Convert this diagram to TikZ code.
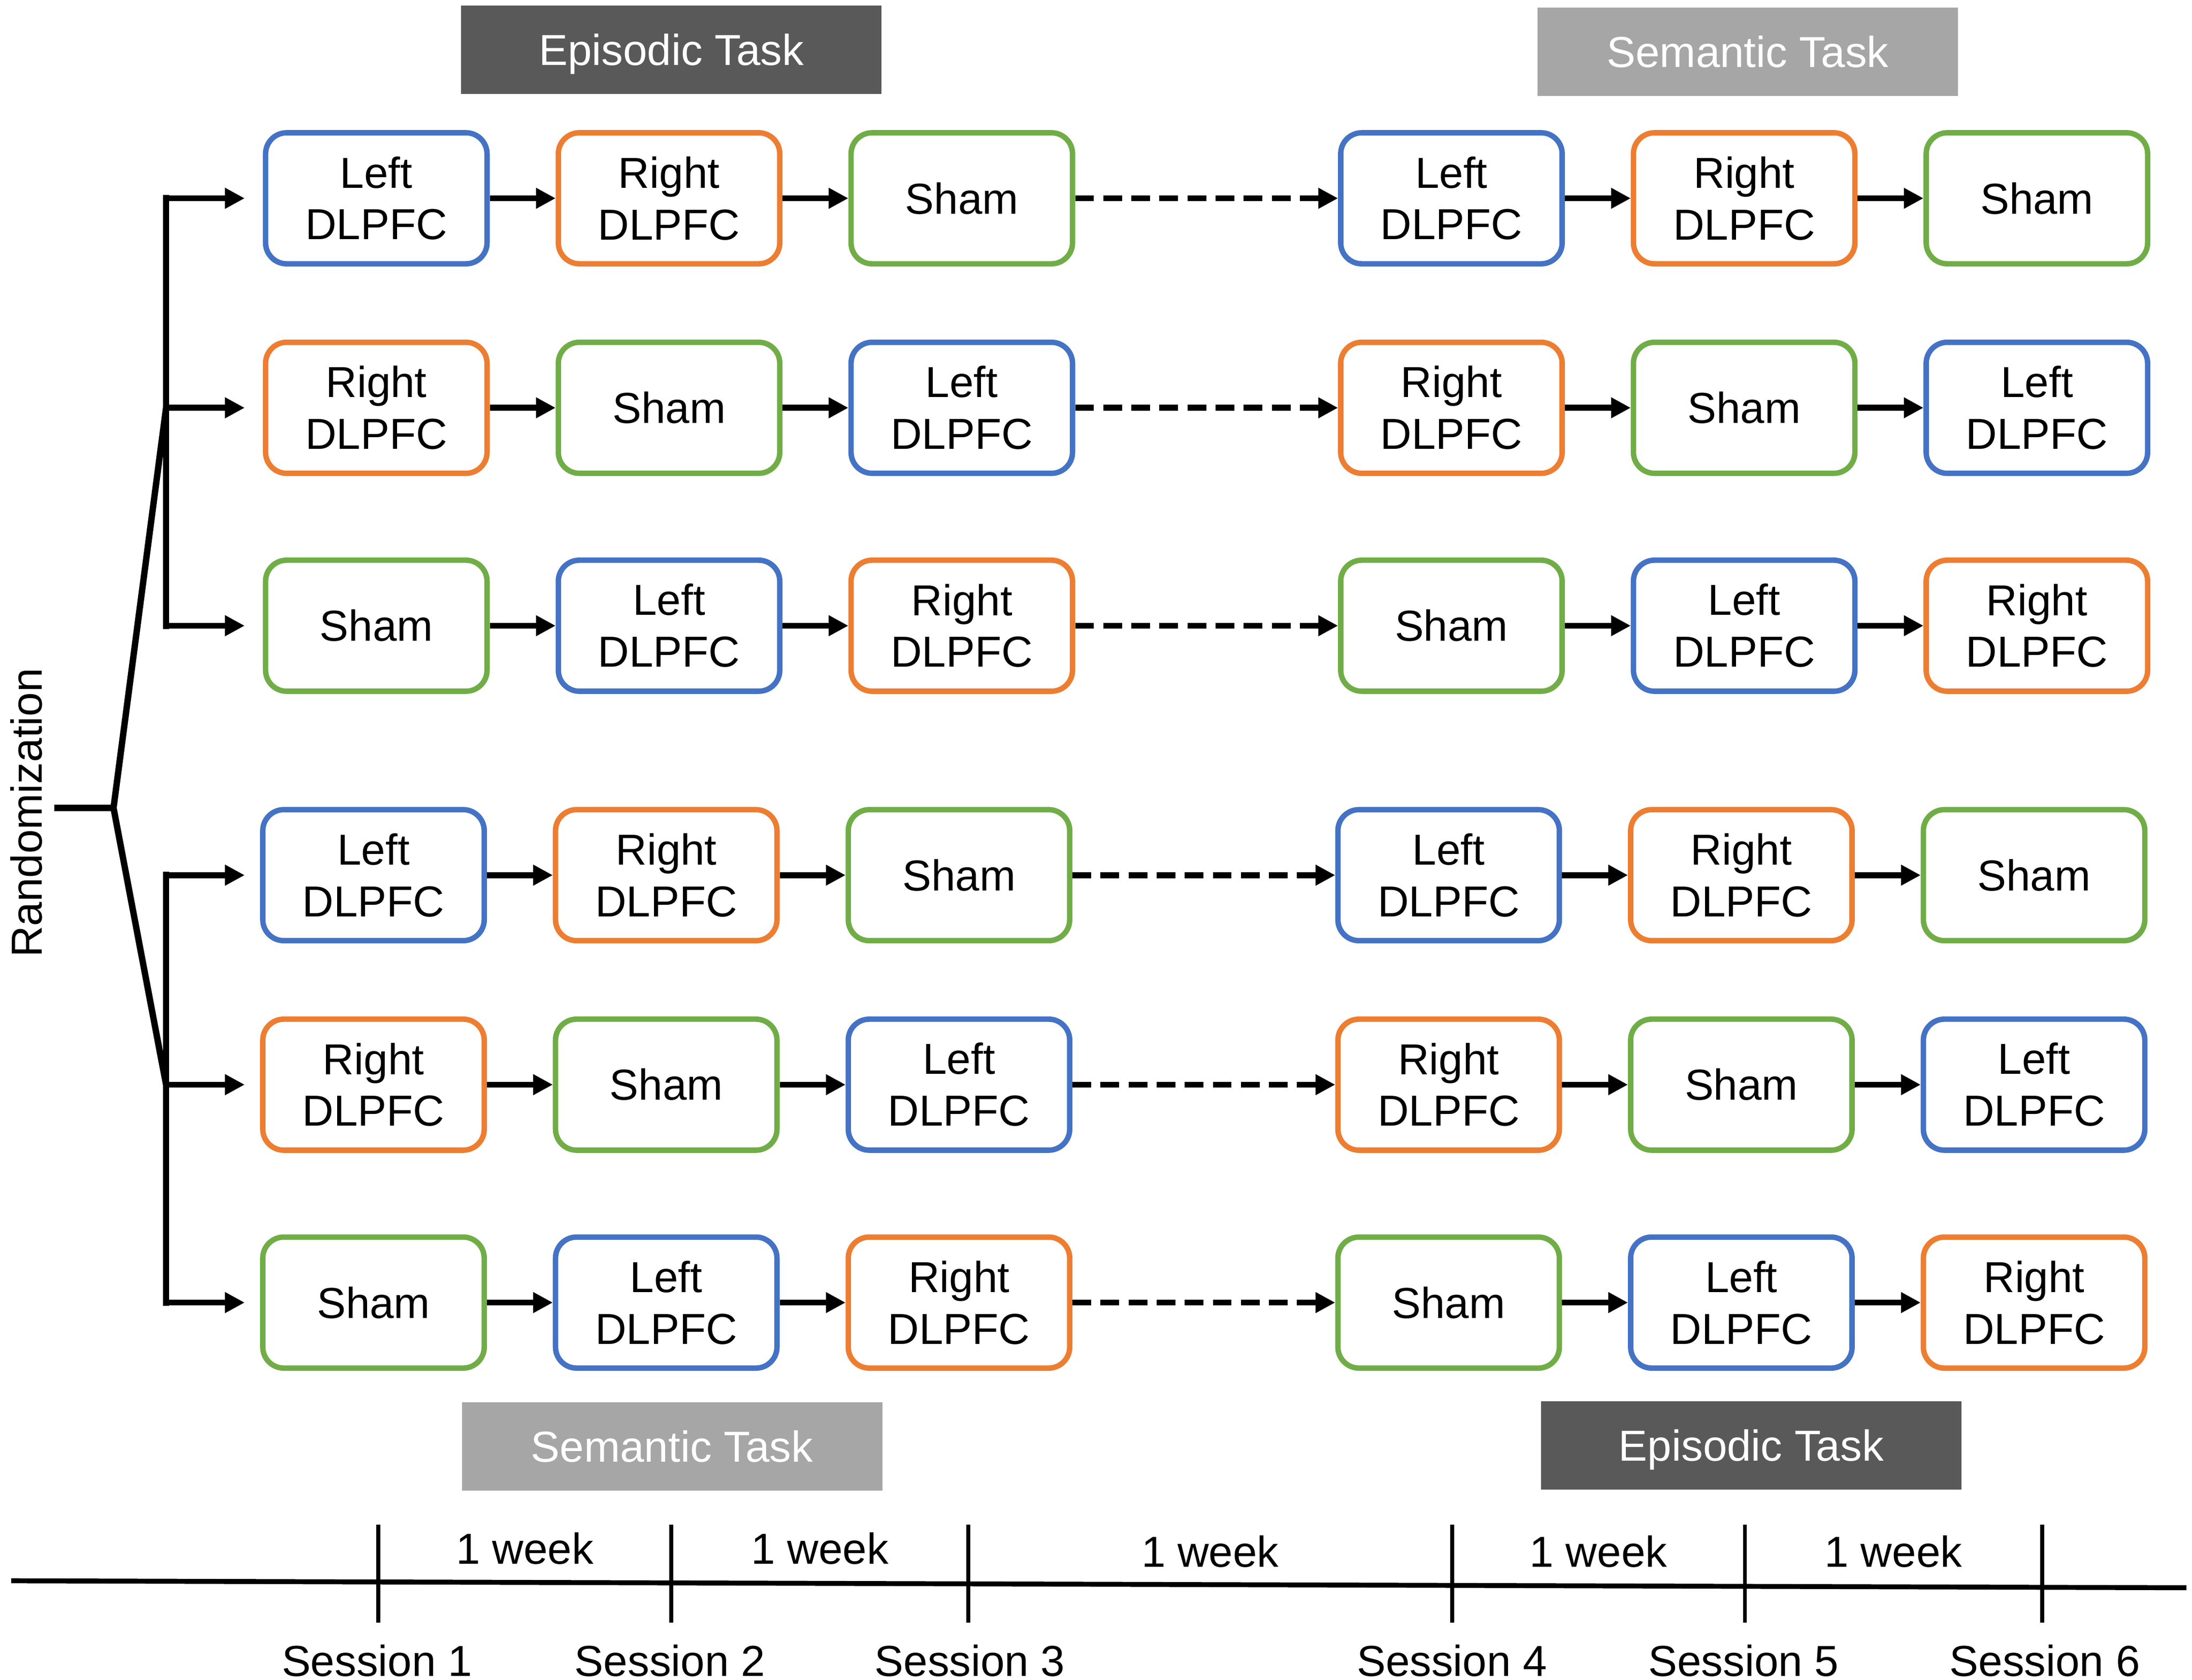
\documentclass[tikz,border=0pt]{standalone}
\usepackage{fontspec}
\setmainfont{Liberation Sans}
\usetikzlibrary{positioning,arrows.meta}
\definecolor{lblue}{HTML}{4472C4}
\definecolor{rorange}{HTML}{ED7D31}
\definecolor{sgreen}{HTML}{70AD47}
\definecolor{taskdark}{HTML}{595959}
\definecolor{tasklight}{HTML}{A6A6A6}

\begin{document}
\begin{tikzpicture}[font=\fontsize{8.8}{10.5}\selectfont,
            node distance=0.47cm,
            site/.style={
                rectangle, rounded corners=0.15cm, draw, line width=1.1pt,
                minimum width=1.58cm, minimum height=0.935cm, inner sep=0pt, align=center},
            lbox/.style={site, draw=lblue},
            rbox/.style={site, draw=rorange},
            sbox/.style={site, draw=sgreen},
            task/.style={rectangle, minimum width=3cm, minimum height=0.63cm,
                inner sep=0pt, text=white, text height=6.3pt, text depth=0pt},
            arr/.style={line width=1.2pt, -{Triangle[length=0.14cm,width=0.14cm]}},
            darr/.style={arr, dash pattern=on 3.8pt off 1.9pt},
            branch/.style={line width=1.3pt, line cap=rect},
            tick/.style={line width=0.8pt}]

            \useasboundingbox (0,0) rectangle (15.64,-11.985);

            % task bars
            \node [task,fill=taskdark] (ep1) at (4.79,-0.355) {Episodic Task};
            \node [task,fill=tasklight] (se1) at (12.47,-0.37) {Semantic Task};
            \node [task,fill=tasklight] (se2) at (4.795,-10.32) {Semantic Task};
            \node [task,fill=taskdark] (ep2) at (12.495,-10.315) {Episodic Task};

            % first group
            \node [lbox] (r1c1) at (2.685,-1.415) {Left\\DLPFC};
            \node [rbox,right=of r1c1] (r1c2) {Right\\DLPFC};
            \node [sbox,right=of r1c2] (r1c3) {Sham};
            \node [lbox,right=1.875cm of r1c3] (r1c4) {Left\\DLPFC};
            \node [rbox,right=of r1c4] (r1c5) {Right\\DLPFC};
            \node [sbox,right=of r1c5] (r1c6) {Sham};

            \node [rbox] (r2c1) at (2.685,-2.91) {Right\\DLPFC};
            \node [sbox,right=of r2c1] (r2c2) {Sham};
            \node [lbox,right=of r2c2] (r2c3) {Left\\DLPFC};
            \node [rbox,right=1.875cm of r2c3] (r2c4) {Right\\DLPFC};
            \node [sbox,right=of r2c4] (r2c5) {Sham};
            \node [lbox,right=of r2c5] (r2c6) {Left\\DLPFC};

            \node [sbox] (r3c1) at (2.685,-4.465) {Sham};
            \node [lbox,right=of r3c1] (r3c2) {Left\\DLPFC};
            \node [rbox,right=of r3c2] (r3c3) {Right\\DLPFC};
            \node [sbox,right=1.875cm of r3c3] (r3c4) {Sham};
            \node [lbox,right=of r3c4] (r3c5) {Left\\DLPFC};
            \node [rbox,right=of r3c5] (r3c6) {Right\\DLPFC};

            % second group
            \node [lbox] (r4c1) at (2.665,-6.245) {Left\\DLPFC};
            \node [rbox,right=of r4c1] (r4c2) {Right\\DLPFC};
            \node [sbox,right=of r4c2] (r4c3) {Sham};
            \node [lbox,right=1.875cm of r4c3] (r4c4) {Left\\DLPFC};
            \node [rbox,right=of r4c4] (r4c5) {Right\\DLPFC};
            \node [sbox,right=of r4c5] (r4c6) {Sham};

            \node [rbox] (r5c1) at (2.665,-7.74) {Right\\DLPFC};
            \node [sbox,right=of r5c1] (r5c2) {Sham};
            \node [lbox,right=of r5c2] (r5c3) {Left\\DLPFC};
            \node [rbox,right=1.875cm of r5c3] (r5c4) {Right\\DLPFC};
            \node [sbox,right=of r5c4] (r5c5) {Sham};
            \node [lbox,right=of r5c5] (r5c6) {Left\\DLPFC};

            \node [sbox] (r6c1) at (2.665,-9.295) {Sham};
            \node [lbox,right=of r6c1] (r6c2) {Left\\DLPFC};
            \node [rbox,right=of r6c2] (r6c3) {Right\\DLPFC};
            \node [sbox,right=1.875cm of r6c3] (r6c4) {Sham};
            \node [lbox,right=of r6c4] (r6c5) {Left\\DLPFC};
            \node [rbox,right=of r6c5] (r6c6) {Right\\DLPFC};

            % arrows along the rows
            \draw [arr] (r1c1) -- (r1c2); \draw [arr] (r1c2) -- (r1c3);
            \draw [darr] (r1c3) -- (r1c4);
            \draw [arr] (r1c4) -- (r1c5); \draw [arr] (r1c5) -- (r1c6);
            \draw [arr] (r2c1) -- (r2c2); \draw [arr] (r2c2) -- (r2c3);
            \draw [darr] (r2c3) -- (r2c4);
            \draw [arr] (r2c4) -- (r2c5); \draw [arr] (r2c5) -- (r2c6);
            \draw [arr] (r3c1) -- (r3c2); \draw [arr] (r3c2) -- (r3c3);
            \draw [darr] (r3c3) -- (r3c4);
            \draw [arr] (r3c4) -- (r3c5); \draw [arr] (r3c5) -- (r3c6);
            \draw [arr] (r4c1) -- (r4c2); \draw [arr] (r4c2) -- (r4c3);
            \draw [darr] (r4c3) -- (r4c4);
            \draw [arr] (r4c4) -- (r4c5); \draw [arr] (r4c5) -- (r4c6);
            \draw [arr] (r5c1) -- (r5c2); \draw [arr] (r5c2) -- (r5c3);
            \draw [darr] (r5c3) -- (r5c4);
            \draw [arr] (r5c4) -- (r5c5); \draw [arr] (r5c5) -- (r5c6);
            \draw [arr] (r6c1) -- (r6c2); \draw [arr] (r6c2) -- (r6c3);
            \draw [darr] (r6c3) -- (r6c4);
            \draw [arr] (r6c4) -- (r6c5); \draw [arr] (r6c5) -- (r6c6);

            % randomization tree
            \node [rotate=90] (rand) at (0.19,-5.80) {Randomization};
            \coordinate (start) at (0.41,-5.765);
            \coordinate (fork) at (0.81,-5.765);
            \coordinate (split) at (1.185,0);
            \draw [branch] (start) -- (fork) -- (split |- r2c1);
            \draw [branch] (fork) -- (split |- r5c1);
            \draw [branch] (split |- r1c1) -- (split |- r3c1);
            \draw [branch] (split |- r4c1) -- (split |- r6c1);
            \draw [arr,shorten >=0.13cm] (split |- r1c1) -- (r1c1);
            \draw [arr,shorten >=0.13cm] (split |- r2c1) -- (r2c1);
            \draw [arr,shorten >=0.13cm] (split |- r3c1) -- (r3c1);
            \draw [arr,shorten >=0.11cm] (split |- r4c1) -- (r4c1);
            \draw [arr,shorten >=0.11cm] (split |- r5c1) -- (r5c1);
            \draw [arr,shorten >=0.11cm] (split |- r6c1) -- (r6c1);

            % time line
            \coordinate (tl0) at (0.08,-11.28);
            \coordinate (tl1) at (15.60,-11.33);
            \draw [line width=1pt] (tl0) -- (tl1);
            \draw [tick] (2.70,-10.88) -- (2.70,-11.58);
            \draw [tick] (4.79,-10.88) -- (4.79,-11.58);
            \draw [tick] (6.91,-10.88) -- (6.91,-11.58);
            \draw [tick] (10.36,-10.88) -- (10.36,-11.58);
            \draw [tick] (12.45,-10.88) -- (12.45,-11.58);
            \draw [tick] (14.57,-10.88) -- (14.57,-11.58);

            \node (wk1) at (3.745,-11.05) {1 week};
            \node (wk2) at (5.85,-11.05) {1 week};
            \node (wk3) at (8.635,-11.07) {1 week};
            \node (wk4) at (11.405,-11.07) {1 week};
            \node (wk5) at (13.51,-11.07) {1 week};

            \node (ses1) at (2.69,-11.85) {Session 1};
            \node (ses2) at (4.78,-11.85) {Session 2};
            \node (ses3) at (6.92,-11.85) {Session 3};
            \node (ses4) at (10.36,-11.85) {Session 4};
            \node (ses5) at (12.44,-11.85) {Session 5};
            \node (ses6) at (14.59,-11.85) {Session 6};

        \end{tikzpicture}
\end{document}
